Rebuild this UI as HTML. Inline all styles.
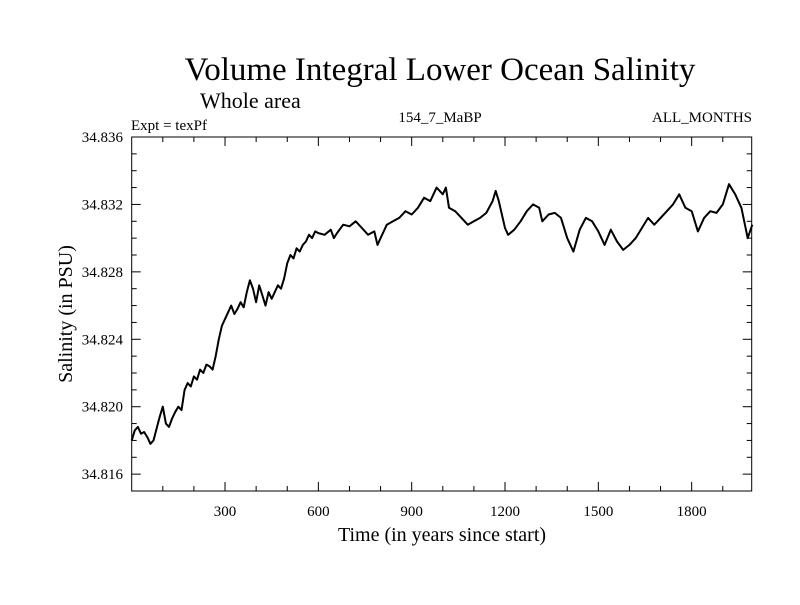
<!DOCTYPE html>
<html><head><meta charset="utf-8"><style>
body{margin:0;background:#fff;}
svg text{font-family:"Liberation Serif",serif;fill:#000;}
</style></head><body>
<svg id="chart" width="800" height="600" xmlns="http://www.w3.org/2000/svg">
<text x="440" y="80" font-size="33" text-anchor="middle">Volume Integral Lower Ocean Salinity</text>
<text x="200" y="108" font-size="22">Whole area</text>
<text x="131" y="130" font-size="15">Expt = texPf</text>
<text x="440" y="122" font-size="15" text-anchor="middle">154_7_MaBP</text>
<text x="752" y="122" font-size="15" text-anchor="end">ALL_MONTHS</text>
<text transform="translate(72,314) rotate(-90)" font-size="20" text-anchor="middle">Salinity (in PSU)</text>
<text x="442" y="541" font-size="20" text-anchor="middle">Time (in years since start)</text>
<g id="axes"></g>
<path id="line" fill="none" stroke="#000" stroke-width="2" stroke-linejoin="round"/>
<rect x="131.7" y="137" width="620" height="354" fill="none" stroke="#000" stroke-width="1"/>
</svg>
<script>
const years=[0,10,20,30,40,50,60,70,80,90,100,110,120,130,140,150,160,170,180,190,200,210,220,230,240,250,260,270,280,290,300,310,320,330,340,350,360,370,380,390,400,410,420,430,440,450,460,470,480,490,500,510,520,530,540,550,560,570,580,590,600,620,640,650,660,680,700,720,740,760,780,790,800,820,840,860,880,900,920,940,960,980,1000,1010,1020,1040,1060,1080,1100,1120,1140,1160,1170,1180,1200,1210,1230,1250,1270,1290,1310,1320,1340,1360,1380,1400,1420,1440,1460,1480,1500,1520,1540,1560,1580,1600,1620,1640,1660,1680,1700,1720,1740,1760,1780,1800,1820,1840,1860,1880,1900,1920,1940,1960,1980,1995];
const salinity=[34.8180,34.8186,34.8188,34.8184,34.8185,34.8182,34.8178,34.8180,34.8187,34.8194,34.8200,34.8190,34.8188,34.8193,34.8197,34.8200,34.8198,34.8210,34.8214,34.8212,34.8218,34.8216,34.8222,34.8220,34.8225,34.8224,34.8222,34.8230,34.8240,34.8248,34.8252,34.8256,34.8260,34.8255,34.8258,34.8262,34.8259,34.8268,34.8275,34.8270,34.8262,34.8272,34.8266,34.8260,34.8268,34.8264,34.8268,34.8272,34.8270,34.8276,34.8285,34.8290,34.8288,34.8294,34.8292,34.8296,34.8298,34.8302,34.8300,34.8304,34.8303,34.8302,34.8305,34.8300,34.8303,34.8308,34.8307,34.8310,34.8306,34.8302,34.8304,34.8296,34.8300,34.8308,34.8310,34.8312,34.8316,34.8314,34.8318,34.8324,34.8322,34.8330,34.8326,34.8330,34.8318,34.8316,34.8312,34.8308,34.8310,34.8312,34.8315,34.8322,34.8328,34.8322,34.8306,34.8302,34.8305,34.8310,34.8316,34.8320,34.8318,34.8310,34.8314,34.8315,34.8312,34.8300,34.8292,34.8305,34.8312,34.8310,34.8304,34.8296,34.8305,34.8298,34.8293,34.8296,34.8300,34.8306,34.8312,34.8308,34.8312,34.8316,34.8320,34.8326,34.8318,34.8316,34.8304,34.8312,34.8316,34.8315,34.8320,34.8332,34.8326,34.8318,34.8300,34.8308];
const xTicks=[300,600,900,1200,1500,1800];
const yTicks=[34.816,34.820,34.824,34.828,34.832,34.836];
const X0=131.7,X1=751.7,Y0=491,Y1=137,XMIN=0,XMAX=1993,YMIN=34.815,YMAX=34.836;
const xs=v=>X0+(v-XMIN)/(XMAX-XMIN)*(X1-X0);
const ys=v=>Y0-(v-YMIN)/(YMAX-YMIN)*(Y0-Y1);
const NS="http://www.w3.org/2000/svg";
const g=document.getElementById('axes');
function ln(x1,y1,x2,y2,name){const l=document.createElementNS(NS,'line');
l.setAttribute('x1',x1);l.setAttribute('y1',y1);l.setAttribute('x2',x2);l.setAttribute('y2',y2);
l.setAttribute('stroke','#000');l.setAttribute('stroke-width','1');


g.appendChild(l);}
function tx(x,y,s,anchor,name){const t=document.createElementNS(NS,'text');
t.setAttribute('x',x);t.setAttribute('y',y);t.setAttribute('font-size','15');t.setAttribute('text-anchor',anchor);t.textContent=s;


g.appendChild(t);}
for(let v=100;v<XMAX;v+=100){const major=v%300===0,L=major?9:5;
ln(xs(v),Y0,xs(v),Y0-L,'x-tick');ln(xs(v),Y1,xs(v),Y1+L,'x-tick');}
xTicks.forEach(v=>tx(xs(v),516,String(v),'middle','x-tick-label'));
for(let k=0;k<=20;k++){const v=YMIN+k*0.001;if(v>YMAX+1e-9)break;
const major=yTicks.some(t=>Math.abs(t-v)<1e-7),L=major?9:5;
ln(X0,ys(v),X0+L,ys(v),'y-tick');ln(X1,ys(v),X1-L,ys(v),'y-tick');}
yTicks.forEach(v=>tx(123,ys(v)+5,v.toFixed(3),'end','y-tick-label'));
document.getElementById('line').setAttribute('d',years.map((y,i)=>(i?'L':'M')+xs(y).toFixed(1)+','+ys(salinity[i]).toFixed(1)).join(''));
</script>
</body></html>
